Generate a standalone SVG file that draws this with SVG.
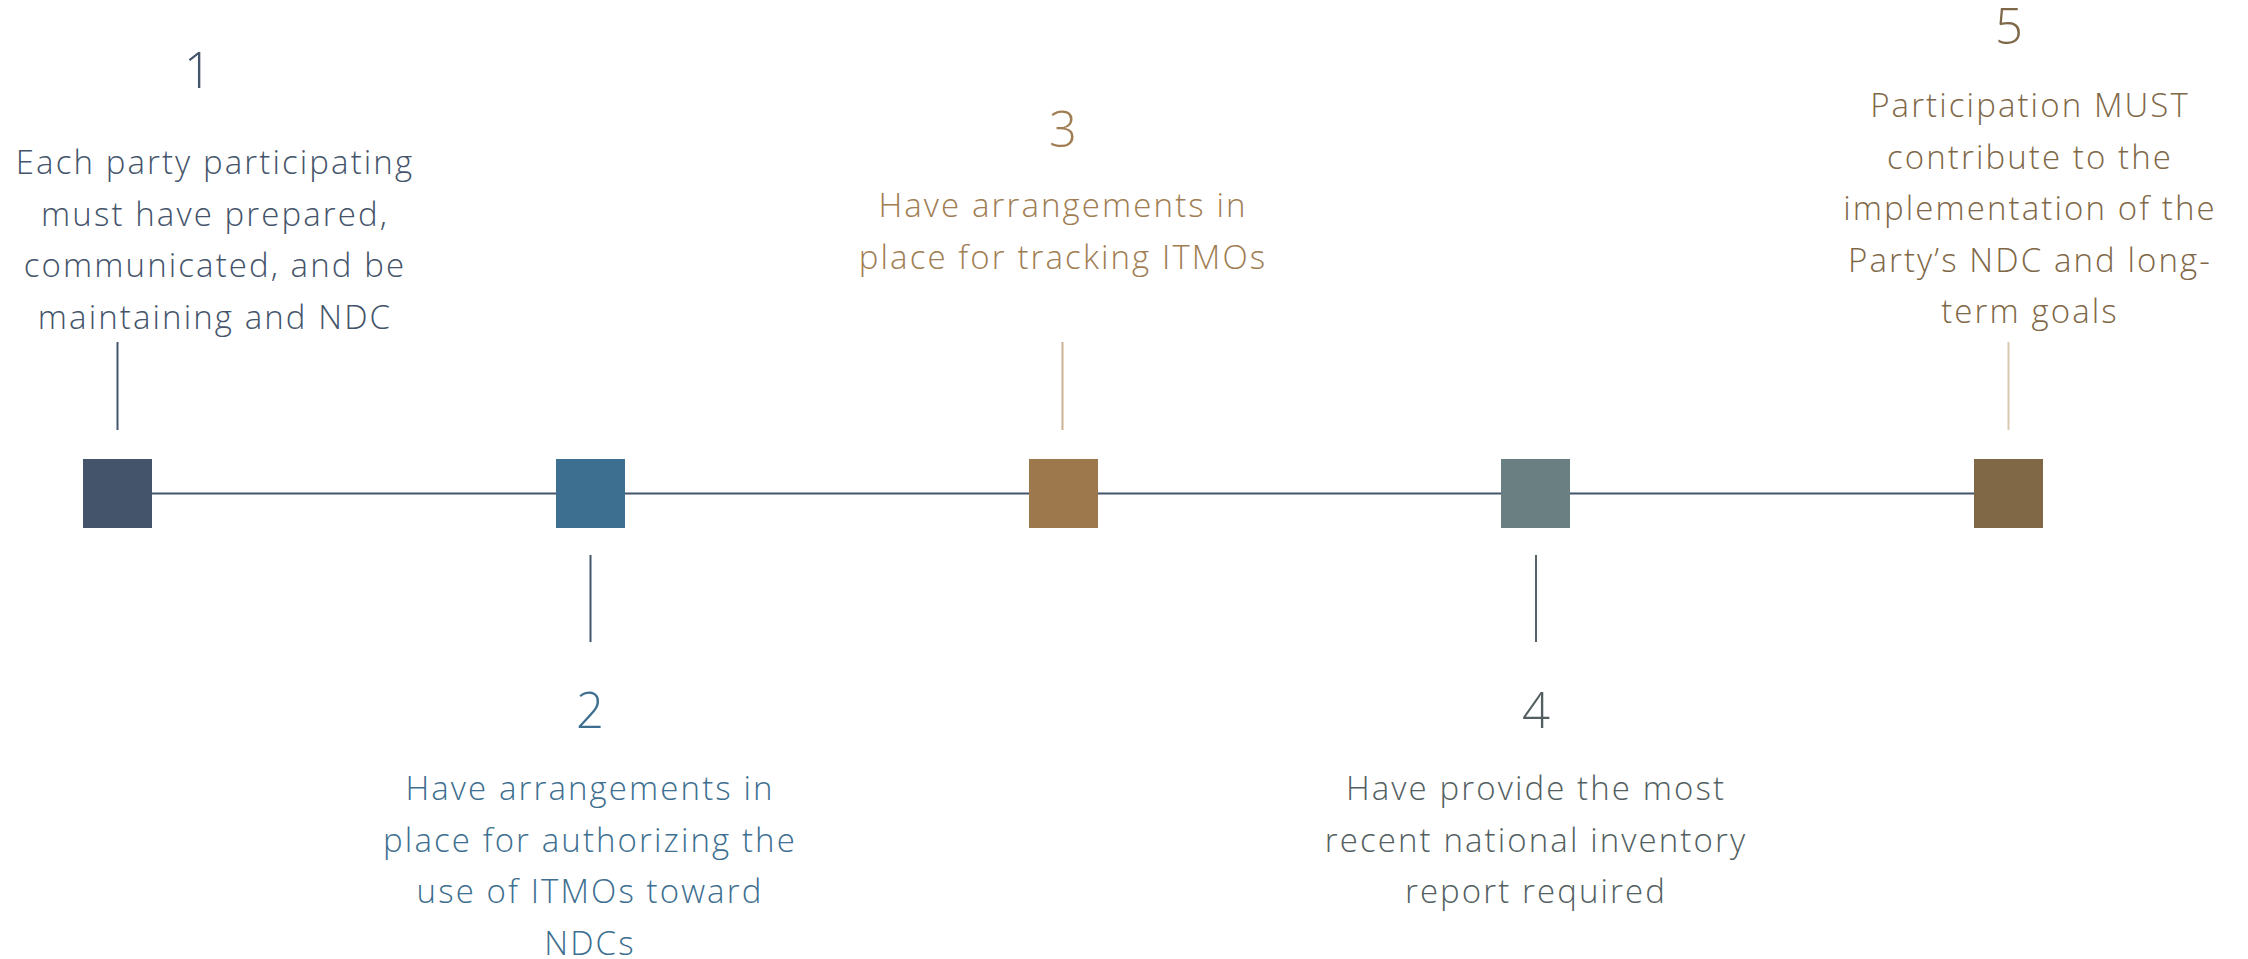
<svg xmlns="http://www.w3.org/2000/svg" width="2248" height="959" viewBox="0 0 2248 959">
<style>
  text { font-family: "Open Sans", "Liberation Sans", sans-serif; font-weight: 300; text-anchor: middle; }
  .num { font-size: 49px; }
  .body { font-size: 33px; letter-spacing: 2.1px; }
  .t1 { fill: #44546A; }
  .t2 { fill: #3E6F90; }
  .t3 { fill: #A07D52; }
  .t4 { fill: #535F61; }
  .t5 { fill: #7F6847; }
  .conn { fill: none; stroke-width: 2; }
</style>
<rect width="2248" height="959" fill="#FFFFFF"/>
<g id="connectors">
  <line class="conn" x1="117.5" y1="493.5" x2="2008.5" y2="493.5" stroke="#44546A"/>
  <line class="conn" x1="117.5" y1="342" x2="117.5" y2="430" stroke="#44546A" stroke-width="1.5"/>
  <line class="conn" x1="590.5" y1="555" x2="590.5" y2="642" stroke="#44546A" stroke-width="1.5"/>
  <line class="conn" x1="1062.5" y1="342" x2="1062.5" y2="430" stroke="#C9B391" stroke-width="1.5"/>
  <line class="conn" x1="1536" y1="555" x2="1536" y2="642" stroke="#56646A" stroke-width="1.5"/>
  <line class="conn" x1="2008.5" y1="342" x2="2008.5" y2="430" stroke="#D9C9B0" stroke-width="1.5"/>
</g>
<g id="node1">
  <rect x="83" y="459" width="69" height="69" fill="#44546A"/>
  <text class="num t1" x="198" y="88">1</text>
  <text class="body t1" x="215" y="174">Each party participating</text>
  <text class="body t1" x="215" y="225.5">must have prepared,</text>
  <text class="body t1" x="215" y="277">communicated, and be</text>
  <text class="body t1" x="215" y="328.5">maintaining and NDC</text>
</g>
<g id="node2">
  <rect x="556" y="459" width="69" height="69" fill="#3D7090"/>
  <text class="num t2" x="590" y="728">2</text>
  <text class="body t2" x="590" y="800">Have arrangements in</text>
  <text class="body t2" x="590" y="851.5">place for authorizing the</text>
  <text class="body t2" x="590" y="903">use of ITMOs toward</text>
  <text class="body t2" x="590" y="954.5">NDCs</text>
</g>
<g id="node3">
  <rect x="1029" y="459" width="69" height="69" fill="#9C784C"/>
  <text class="num t3" x="1063" y="147">3</text>
  <text class="body t3" x="1063" y="217">Have arrangements in</text>
  <text class="body t3" x="1063" y="268.5">place for tracking ITMOs</text>
</g>
<g id="node4">
  <rect x="1501" y="459" width="69" height="69" fill="#697F82"/>
  <text class="num t4" x="1536" y="728">4</text>
  <text class="body t4" x="1536" y="800">Have provide the most</text>
  <text class="body t4" x="1536" y="851.5">recent national inventory</text>
  <text class="body t4" x="1536" y="903">report required</text>
</g>
<g id="node5">
  <rect x="1974" y="459" width="69" height="69" fill="#806846"/>
  <text class="num t5" x="2009" y="44">5</text>
  <text class="body t5" x="2030" y="117">Participation MUST</text>
  <text class="body t5" x="2030" y="168.5">contribute to the</text>
  <text class="body t5" x="2030" y="220">implementation of the</text>
  <text class="body t5" x="2030" y="271.5">Party’s NDC and long-</text>
  <text class="body t5" x="2030" y="323">term goals</text>
</g>
</svg>
